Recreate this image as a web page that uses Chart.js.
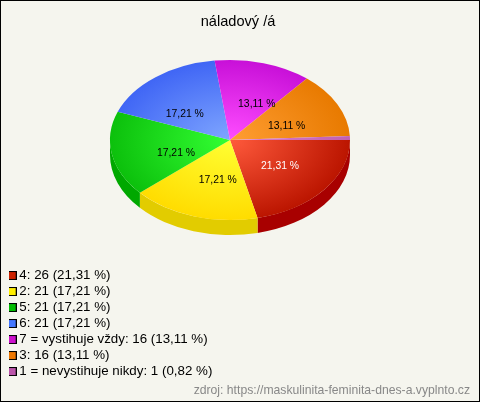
<!DOCTYPE html>
<html>
<head>
<meta charset="utf-8">
<title>náladový /á</title>
<script src="https://cdn.jsdelivr.net/npm/chart.js@4"></script>
<style>
html, body { margin: 0; padding: 0; background: #f5f5ee; }
canvas { display: block; background: #f5f5ee; outline: 1px solid #000; outline-offset: -1px; }
</style>
</head>
<body>
<canvas id="chart1" width="480" height="402"></canvas>
<script>
const categories = ['4', '2', '5', '6', '7 = vystihuje vždy', '3', '1 = nevystihuje nikdy'];
const values = [26, 21, 21, 21, 16, 16, 1];
const percents = ['21,31', '17,21', '17,21', '17,21', '13,11', '13,11', '0,82'];
const innerColors = ['#ff5a3c', '#ffff33', '#33ff33', '#7fa6ff', '#ff4dff', '#ff9e33', '#e080d0'];
const outerColors = ['#bb1500', '#ffdc00', '#0cc00c', '#4066f5', '#c810d8', '#e87a00', '#c060b0'];
const sideColors = ['#a80000', '#e2cc00', '#00a800', '#3050c0', '#a000a8', '#b85c00', '#904888'];
const legendColors = ['#cc2200', '#ffee00', '#00bb00', '#4477ff', '#cc11cc', '#ee7700', '#bb55aa'];

const squash = 0.667;
const depth = 15;
const centerX = 230;
const centerY = 140;
// the reference does not put its labels quite in the middle of the slices
const labelShift = [[3, 1], [6, 2], [5, 6], [-8, 6], [10, 3], [3, 4], [0, 0]];

const legendBox = (color) => {
    const c = document.createElement('canvas');
    c.width = 9;
    c.height = 9;
    const g = c.getContext('2d');
    g.fillStyle = '#000';
    g.fillRect(0, 0, 9, 9);
    g.fillStyle = color;
    g.fillRect(1, 1, 7, 7);
    return c;
}

const sliceGradient = (context) => {
    const chart = context.chart;
    if (!chart.chartArea) return outerColors[context.dataIndex];
    const x = (chart.chartArea.left + chart.chartArea.right) / 2;
    const y = (chart.chartArea.top + chart.chartArea.bottom) / 2;
    const g = chart.ctx.createRadialGradient(x, y, 0, x, y, 120);
    g.addColorStop(0, innerColors[context.dataIndex]);
    g.addColorStop(1, outerColors[context.dataIndex]);
    return g;
}

// tilts the pie and adds the side wall, then writes the percentages on top
const tiltPlugin = {
    id: 'tilt',
    afterLayout(chart) {
        chart.titleBlock.right -= 4;
        chart.legend.bottom += 36;
        chart.legend.left -= 1;
    },
    beforeDatasetsDraw(chart) {
        const ctx = chart.ctx;
        const arcs = chart.getDatasetMeta(0).data;
        const x = arcs[0].x;
        const y = arcs[0].y;
        ctx.save();
        ctx.translate(centerX, centerY);
        ctx.scale(1, squash);
        ctx.translate(-x, -y);
        arcs.forEach((arc, i) => {
            const a = Math.max(arc.startAngle, 0);
            const b = Math.min(arc.endAngle, Math.PI);
            if (b <= a) return;
            ctx.beginPath();
            ctx.arc(x, y, arc.outerRadius, a, b);
            ctx.arc(x, y + depth / squash, arc.outerRadius, b, a, true);
            ctx.closePath();
            ctx.fillStyle = sideColors[i];
            ctx.fill();
        });
    },
    afterDatasetsDraw(chart) {
        const ctx = chart.ctx;
        const arcs = chart.getDatasetMeta(0).data;
        const x = arcs[0].x;
        const y = arcs[0].y;
        ctx.restore();
        ctx.save();
        ctx.font = '10.4px "Liberation Sans"';
        ctx.textAlign = 'center';
        ctx.textBaseline = 'middle';
        arcs.forEach((arc, i) => {
            if (values[i] < 2) return;
            const p = arc.getCenterPoint();
            ctx.fillStyle = i === 0 ? '#fff' : '#000';
            ctx.fillText(percents[i] + ' %', centerX + p.x - x + labelShift[i][0], centerY + (p.y - y) * squash + labelShift[i][1]);
        });
        ctx.restore();
    }
};

new Chart(document.getElementById('chart1'), {
    type: 'pie',
    data: {
        labels: categories,
        datasets: [{
            data: values,
            backgroundColor: sliceGradient,
            borderWidth: 0,
            clip: false
        }]
    },
    options: {
        responsive: false,
        animation: false,
        rotation: 90,
        radius: 120,
        events: [],
        layout: { padding: { left: 10, right: 10, top: 0, bottom: 4 } },
        plugins: {
            tooltip: { enabled: false },
            title: {
                display: true,
                text: 'náladový /á',
                color: '#000',
                font: { family: '"Liberation Sans"', size: 14.6, weight: 'normal' },
                padding: { top: 13, bottom: 4 }
            },
            subtitle: {
                display: true,
                text: 'zdroj: https://maskulinita-feminita-dnes-a.vyplnto.cz',
                position: 'bottom',
                align: 'end',
                color: '#888',
                font: { family: '"Liberation Sans"', size: 12.2, weight: 'normal' },
                padding: { top: 4, bottom: 0 }
            },
            legend: {
                position: 'chartArea',
                align: 'end',
                labels: {
                    usePointStyle: true,
                    boxWidth: 1,
                    boxHeight: 9,
                    padding: 2.67,
                    color: '#000',
                    font: { family: '"Liberation Sans"', size: 13.33, lineHeight: 14 / 13.33 },
                    generateLabels: () => categories.map((c, i) => ({
                        text: c + ': ' + values[i] + ' (' + percents[i] + ' %)',
                        pointStyle: legendBox(legendColors[i]),
                        fontColor: '#000',
                        lineWidth: 0,
                        index: i
                    }))
                }
            }
        }
    },
    plugins: [tiltPlugin]
});
</script>
</body>
</html>
